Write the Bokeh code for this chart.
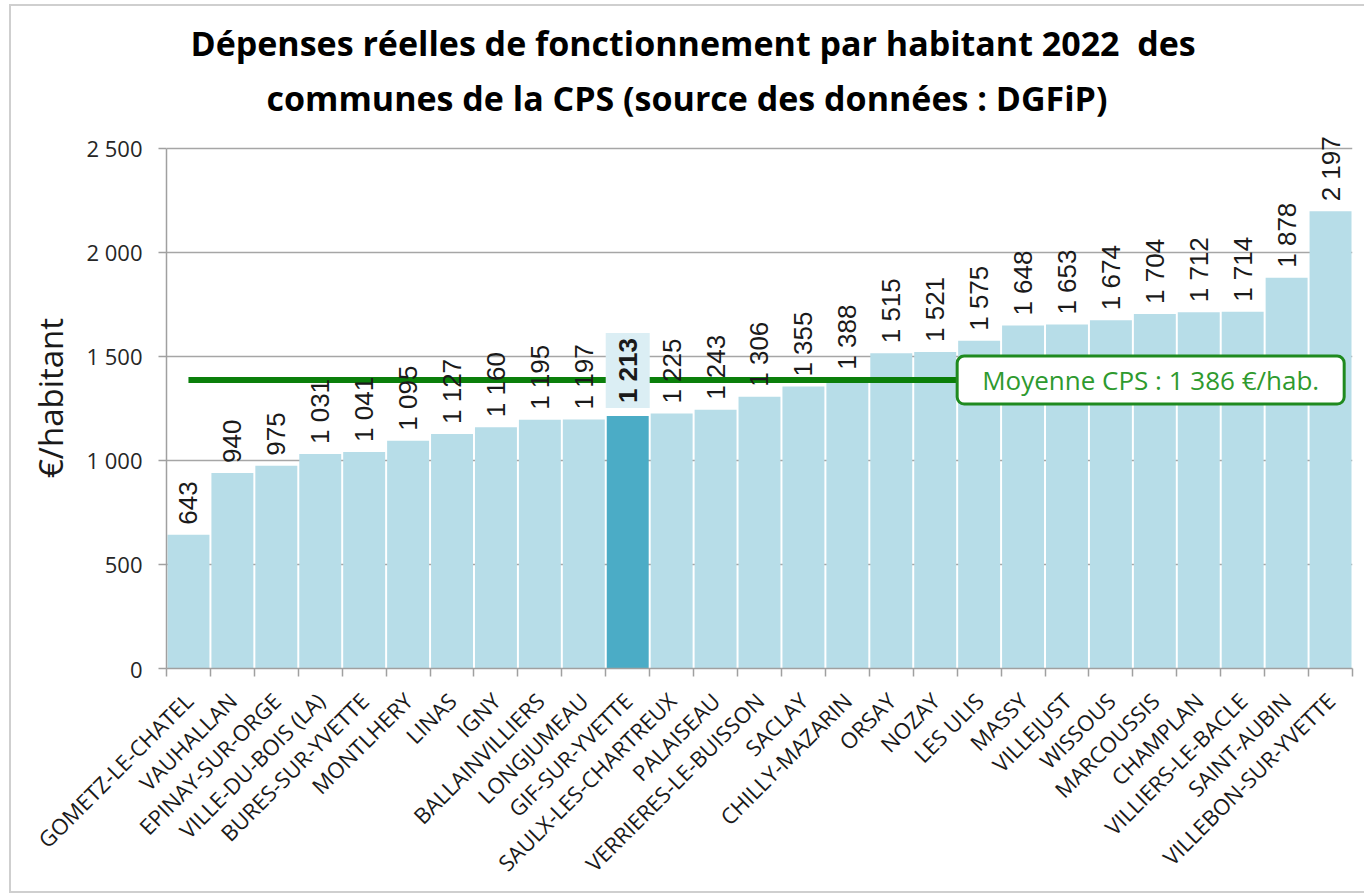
import math
from bokeh.plotting import figure
from bokeh.models import (Range1d, LinearAxis, FixedTicker,
                          ColumnDataSource, LabelSet, Label, Title)
from bokeh.core.properties import value
from bokeh.embed import file_html
from bokeh.resources import INLINE

# ---------------- data ----------------
communes = [
    "GOMETZ-LE-CHATEL", "VAUHALLAN", "EPINAY-SUR-ORGE", "VILLE-DU-BOIS (LA)",
    "BURES-SUR-YVETTE", "MONTLHERY", "LINAS", "IGNY", "BALLAINVILLIERS",
    "LONGJUMEAU", "GIF-SUR-YVETTE", "SAULX-LES-CHARTREUX", "PALAISEAU",
    "VERRIERES-LE-BUISSON", "SACLAY", "CHILLY-MAZARIN", "ORSAY", "NOZAY",
    "LES ULIS", "MASSY", "VILLEJUST", "WISSOUS", "MARCOUSSIS", "CHAMPLAN",
    "VILLIERS-LE-BACLE", "SAINT-AUBIN", "VILLEBON-SUR-YVETTE",
]
depenses = [
    643, 940, 975, 1031, 1041, 1095, 1127, 1160, 1195, 1197, 1213, 1225, 1243,
    1306, 1355, 1388, 1515, 1521, 1575, 1648, 1653, 1674, 1704, 1712, 1714,
    1878, 2197,
]
highlight = "GIF-SUR-YVETTE"
moyenne = 1386
y_ticks = [0, 500, 1000, 1500, 2000, 2500]
y_tick_labels = ["0", "500", "1 000", "1 500", "2 000", "2 500"]
title_line1 = "Dépenses réelles de fonctionnement par habitant 2022\u00a0 des"
title_line2 = "communes de la CPS (source des données : DGFiP)"
y_title = "€/habitant"


def fmt(v):
    return f"{v:,}".replace(",", " ")


BASE = "#b7dde8"
HI = "#4bacc6"
GREEN = "#0b7f0b"
AXIS = "#a0a0a0"

n = len(communes)
centers = [i + 0.5 for i in range(n)]          # category slot centres
bounds = list(range(n + 1))                      # category slot boundaries
colors = [HI if c == highlight else BASE for c in communes]
src = ColumnDataSource(dict(x=centers, y=depenses, color=colors))

keep = [i for i, c in enumerate(communes) if c != highlight]
lbl_src = ColumnDataSource(dict(x=[centers[i] for i in keep], y=[depenses[i] for i in keep],
                                label=[fmt(depenses[i]) for i in keep]))
hi_idx = communes.index(highlight)
hi_val = depenses[hi_idx]
avg_box_slot = communes.index("LES ULIS")

p = figure(
    frame_width=1186, frame_height=541,
    x_range=Range1d(0, n), y_range=Range1d(0, 2600),
    output_backend="svg", toolbar_location=None,
    x_axis_location=None, y_axis_location="left",
    min_border_left=155, min_border_right=12, min_border_top=121, min_border_bottom=223,
)
p.outline_line_color = None
p.background_fill_color = "white"
p.styles = {"border-left": "2px solid #cfcfcf", "border-top": "2px solid #cfcfcf",
            "border-bottom": "2px solid #cfcfcf", "margin-left": "9px", "margin-top": "4px"}

# y axis
ya = p.yaxis[0]
ya.ticker = FixedTicker(ticks=y_ticks)
ya.bounds = (y_ticks[0], y_ticks[-1])
ya.major_label_overrides = {t: l for t, l in zip(y_ticks, y_tick_labels)}
ya.axis_line_color = AXIS
ya.axis_line_width = 1.5
ya.major_tick_line_color = AXIS
ya.major_tick_line_width = 1.5
ya.major_tick_in = 0
ya.major_tick_out = 8
ya.minor_tick_line_color = None
ya.major_label_standoff = 16
ya.major_label_text_font = "Open Sans"
ya.major_label_text_font_size = "22px"
ya.major_label_text_color = "#262626"
ya.axis_label = y_title
ya.axis_label_text_font = "Open Sans"
ya.axis_label_text_font_size = "33px"
ya.axis_label_text_font_style = "normal"
ya.axis_label_text_color = "#1a1a1a"
ya.axis_label_standoff = 10

p.xgrid.visible = False
p.ygrid.ticker = FixedTicker(ticks=y_ticks)
p.ygrid.grid_line_color = "#a6a6a6"
p.ygrid.grid_line_width = 1.5

# x axis: category labels at slot centres, tick marks at slot boundaries
cat_axis = LinearAxis(ticker=FixedTicker(ticks=centers, minor_ticks=bounds))
cat_axis.major_label_overrides = {x: c for x, c in zip(centers, communes)}
cat_axis.axis_line_color = AXIS
cat_axis.axis_line_width = 1.5
cat_axis.major_tick_line_color = None
cat_axis.major_tick_in = 0
cat_axis.major_tick_out = 0
cat_axis.minor_tick_line_color = AXIS
cat_axis.minor_tick_line_width = 1.5
cat_axis.minor_tick_in = 0
cat_axis.minor_tick_out = 8
cat_axis.major_label_orientation = math.pi / 4
cat_axis.major_label_standoff = 20
cat_axis.major_label_text_font = "Open Sans"
cat_axis.major_label_text_font_size = "22px"
cat_axis.major_label_text_color = "#1a1a1a"
p.add_layout(cat_axis, "below")

# titles (added nearest first)
t2 = Title(text=title_line2, align="left", offset=100, text_font="Open Sans",
           text_font_size="34px", text_font_style="bold", text_color="#000000", standoff=14)
t1 = Title(text=title_line1, align="left", offset=24, text_font="Open Sans",
           text_font_size="34px", text_font_style="bold", text_color="#000000", standoff=0)
p.add_layout(t2, "above")
p.add_layout(t1, "above")

# bars
p.vbar(x="x", top="y", width=0.955, fill_color="color", line_color=None, source=src)

# average line
p.line(x=[centers[0], centers[-1]], y=[moyenne, moyenne], line_color=GREEN, line_width=6)

# data labels
labels = LabelSet(x="x", y="y", text="label", source=lbl_src, angle=math.pi / 2,
                  y_offset=10, text_align="left", text_baseline="middle",
                  text_font=value("Liberation Sans"), text_font_size="26px", text_color="#1a1a1a")
p.add_layout(labels)

hi_label = Label(x=centers[hi_idx], y=hi_val, text=fmt(hi_val),
                 angle=math.pi / 2, y_offset=8,
                 text_align="left", text_baseline="middle",
                 text_font="Liberation Sans", text_font_size="26px", text_font_style="bold",
                 text_color="#1a1a1a", background_fill_color="#dbeef4",
                 padding=dict(left=5, right=5, top=7, bottom=7))
p.add_layout(hi_label)

# average legend box
avg_label = Label(x=bounds[avg_box_slot], y=moyenne, x_offset=0,
                  text=f"Moyenne CPS : {fmt(moyenne)} €/hab.",
                  text_align="left", text_baseline="middle",
                  text_font="Open Sans", text_font_size="26px", text_color="#2e9a2e",
                  background_fill_color="white", border_line_color="#1f8a1f",
                  border_line_width=3, border_radius=7,
                  padding=dict(left=25, right=25, top=6, bottom=6))
p.add_layout(avg_label)

open("out.html", "w").write(file_html(p, INLINE))
